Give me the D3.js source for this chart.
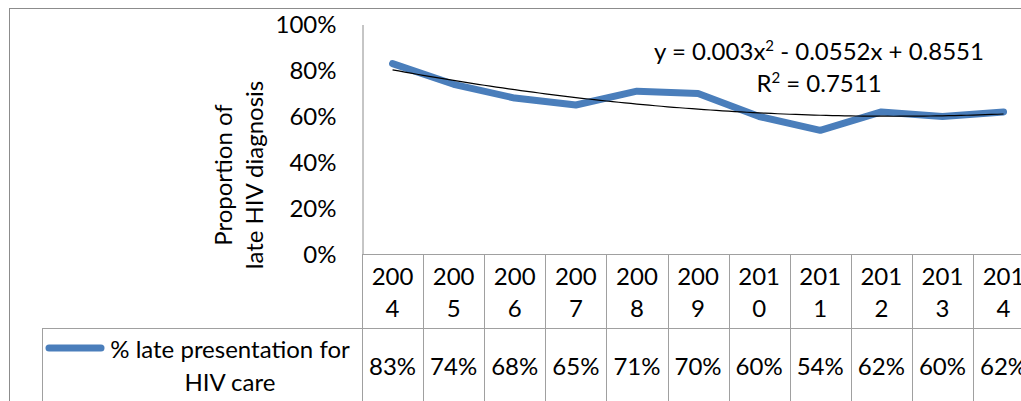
<!DOCTYPE html>
<html>
<head>
<meta charset="utf-8">
<script src="https://cdn.jsdelivr.net/npm/d3@7"></script>
<style>
  body { margin: 0; background: #fff; }
  text { font-family: Lato, "Open Sans", sans-serif; fill: #000; }
</style>
</head>
<body>
<script>
// data
var years = ["2004", "2005", "2006", "2007", "2008", "2009", "2010", "2011", "2012", "2013", "2014"];
var lateShare = [0.83, 0.74, 0.68, 0.65, 0.71, 0.70, 0.60, 0.54, 0.62, 0.60, 0.62];
var yTicks = [0, 0.2, 0.4, 0.6, 0.8, 1.0];
// trendline coefficients as printed on the chart: c0 + c1*x + c2*x^2
var trendCoefs = [0.8551, -0.0552, 0.003];
var trendLabel = ["y = 0.003x", "2", " - 0.0552x + 0.8551"];
var r2Label = ["R", "2", " = 0.7511"];
var seriesName = ["% late presentation for", "HIV care"];
var yTitle = ["Proportion of", "late HIV diagnosis"];

var width = 1021, height = 401;
var fontSize = 24;

var svg = d3.select("body").append("svg")
    .attr("width", width)
    .attr("height", height);

// outer chart border (runs off the right and bottom edge)
svg.append("rect")
    .attr("x", 9.5).attr("y", 8.5)
    .attr("width", 1100).attr("height", 500)
    .attr("fill", "none")
    .attr("stroke", "#8c8c8c");

// set the ranges
var xScale = d3.scaleBand()
    .domain(years)
    .range([362, 362 + 61.1 * years.length]);
var yScale = d3.scaleLinear()
    .domain([0, 1])
    .range([254.5, 24.5]);

var xCenter = function (d) { return xScale(d) + xScale.bandwidth() / 2; };

// y axis
var yAxis = svg.append("g")
    .attr("transform", "translate(362.5,0)")
    .call(d3.axisLeft(yScale)
        .tickValues(yTicks)
        .tickFormat(d3.format(".0%"))
        .tickSize(0)
        .tickPadding(26));
yAxis.select(".domain").attr("stroke", "#8c8c8c");
yAxis.selectAll("text")
    .style("font-size", fontSize + "px")
    .style("font-family", "Lato, sans-serif");

// y axis title, two lines rotated
svg.selectAll(".ytitle")
    .data(yTitle)
    .enter().append("text")
    .attr("class", "ytitle")
    .attr("transform", function (d, i) { return "translate(" + (222 + i * 31) + ",175) rotate(-90)"; })
    .attr("text-anchor", "middle")
    .attr("dominant-baseline", "central")
    .style("font-size", fontSize + "px")
    .text(function (d) { return d; });

// data table grid
var grid = svg.append("g")
    .attr("stroke", "#a0a0a0")
    .attr("stroke-width", 1);
var tableRight = xScale.range()[1];
grid.append("line").attr("x1", 362).attr("x2", tableRight).attr("y1", 254.5).attr("y2", 254.5);
grid.append("line").attr("x1", 42).attr("x2", tableRight).attr("y1", 328.5).attr("y2", 328.5);
grid.append("line").attr("x1", 42.5).attr("x2", 42.5).attr("y1", 328.5).attr("y2", height);
grid.selectAll(".vline")
    .data(years.concat(["end"]))
    .enter().append("line")
    .attr("class", "vline")
    .attr("x1", function (d, i) { return Math.round(xScale.range()[0] + i * xScale.bandwidth()) + 0.5; })
    .attr("x2", function (d, i) { return Math.round(xScale.range()[0] + i * xScale.bandwidth()) + 0.5; })
    .attr("y1", 254.5).attr("y2", height);

// year labels wrapped in the narrow cells
var yearCells = svg.selectAll(".year")
    .data(years)
    .enter().append("text")
    .attr("class", "year")
    .attr("text-anchor", "middle")
    .style("font-size", fontSize + "px");
yearCells.append("tspan")
    .attr("x", xCenter).attr("y", 275)
    .attr("dominant-baseline", "central")
    .text(function (d) { return d.slice(0, 3); });
yearCells.append("tspan")
    .attr("x", xCenter).attr("y", 307)
    .attr("dominant-baseline", "central")
    .text(function (d) { return d.slice(3); });

// values row
svg.selectAll(".val")
    .data(lateShare)
    .enter().append("text")
    .attr("class", "val")
    .attr("x", function (d, i) { return xCenter(years[i]); })
    .attr("y", 365)
    .attr("text-anchor", "middle")
    .attr("dominant-baseline", "central")
    .style("font-size", fontSize + "px")
    .text(function (d) { return Math.round(d * 100) + "%"; });

// legend key and series name
svg.append("line")
    .attr("x1", 49).attr("x2", 101)
    .attr("y1", 348).attr("y2", 348)
    .attr("stroke", "#4A7EBB")
    .attr("stroke-width", 7)
    .attr("stroke-linecap", "round");
svg.append("text")
    .attr("x", 230).attr("y", 348)
    .attr("text-anchor", "middle")
    .attr("dominant-baseline", "central")
    .style("font-size", fontSize + "px")
    .text(seriesName[0]);
svg.append("text")
    .attr("x", 230).attr("y", 381)
    .attr("text-anchor", "middle")
    .attr("dominant-baseline", "central")
    .style("font-size", fontSize + "px")
    .text(seriesName[1]);

// series line
var line = d3.line()
    .x(function (d, i) { return xCenter(years[i]); })
    .y(function (d) { return yScale(d); });
svg.append("path")
    .datum(lateShare)
    .attr("fill", "none")
    .attr("stroke", "#4A7EBB")
    .attr("stroke-width", 7)
    .attr("stroke-linejoin", "round")
    .attr("stroke-linecap", "round")
    .attr("d", line);

// polynomial trendline (x = 1..n)
var trendX = d3.range(1, years.length + 0.001, 0.1);
var xIdx = d3.scaleLinear().domain([1, years.length]).range([xCenter(years[0]), xCenter(years[years.length - 1])]);
svg.append("path")
    .datum(trendX)
    .attr("fill", "none")
    .attr("stroke", "#000")
    .attr("stroke-width", 1.2)
    .attr("d", d3.line()
        .x(function (t) { return xIdx(t); })
        .y(function (t) { return yScale(trendCoefs[0] + trendCoefs[1] * t + trendCoefs[2] * t * t); }));

// trendline equation
function supText(lbl, y) {
    var t = svg.append("text")
        .attr("x", 819).attr("y", y)
        .attr("text-anchor", "middle")
        .style("font-size", fontSize + "px");
    t.append("tspan").text(lbl[0]);
    t.append("tspan").attr("dy", -9).style("font-size", "15px").text(lbl[1]);
    t.append("tspan").attr("dy", 9).text(lbl[2]);
}
supText(trendLabel, 60);
supText(r2Label, 92);
</script>
</body>
</html>
